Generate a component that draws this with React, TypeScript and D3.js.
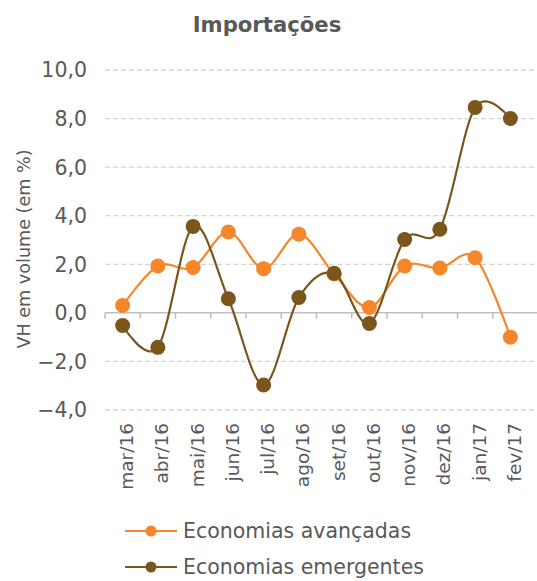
import React, { useEffect, useRef } from "react";
import * as d3 from "d3";

// importações: VH em volume, economias avançadas vs emergentes

const months = ["mar/16", "abr/16", "mai/16", "jun/16", "jul/16", "ago/16", "set/16", "out/16", "nov/16", "dez/16", "jan/17", "fev/17"];
const avancadas = [0.3, 1.93, 1.87, 3.33, 1.82, 3.24, 1.6, 0.22, 1.93, 1.85, 2.27, -1.0];
const emergentes = [-0.52, -1.42, 3.56, 0.58, -2.97, 0.63, 1.63, -0.44, 3.02, 3.44, 8.46, 8.0];
const yTicks = [-4, -2, 0, 2, 4, 6, 8, 10];
const seriesNames = ["Economias avançadas", "Economias emergentes"];
const colors = ["#F5862A", "#7A561C"];

const font = "'DejaVu Sans', Verdana, sans-serif";

export default function App() {
    const svgRef = useRef<SVGSVGElement | null>(null);

    useEffect(() => {
        const svg = d3.select(svgRef.current);
        svg.selectAll("*").remove();

        const left = 105;
        const plotRight = 528;
        const gridRight = 537;

        const x = d3.scaleBand().domain(months).range([left, plotRight]);
        const y = d3.scaleLinear().domain([-4, 10]).range([410, 70]);

        // title
        svg.append("text")
            .attr("x", 267)
            .attr("y", 32)
            .attr("text-anchor", "middle")
            .attr("font-family", font)
            .attr("font-weight", "bold")
            .attr("font-size", 21.2)
            .attr("fill", "#595959")
            .text("Importações");

        // gridlines
        svg.append("g")
            .selectAll("line")
            .data(yTicks.filter((d) => d !== 0))
            .join("line")
            .attr("x1", left)
            .attr("x2", gridRight)
            .attr("y1", (d) => y(d))
            .attr("y2", (d) => y(d))
            .attr("stroke", "#d4d4d4")
            .attr("stroke-width", 1.3)
            .attr("stroke-dasharray", "5,3");

        // y tick labels
        svg.append("g")
            .selectAll("text")
            .data(yTicks)
            .join("text")
            .attr("x", 87)
            .attr("y", (d) => y(d))
            .attr("dy", "0.36em")
            .attr("text-anchor", "end")
            .attr("font-family", font)
            .attr("font-size", 20.5)
            .attr("fill", "#595959")
            .text((d) => d3.format(".1f")(d).replace(".", ","));

        // y label
        svg.append("text")
            .attr("transform", `translate(29.5,249) rotate(-90)`)
            .attr("text-anchor", "middle")
            .attr("font-family", font)
            .attr("font-size", 17.6)
            .attr("fill", "#595959")
            .text("VH em volume (em %)");

        // zero axis with ticks
        const xAxis = svg.append("g").attr("transform", `translate(0,${y(0)})`);
        xAxis.append("line")
            .attr("x1", left)
            .attr("x2", gridRight)
            .attr("stroke", "#bfbfbf")
            .attr("stroke-width", 1.5);
        xAxis.selectAll("line.tick")
            .data(months)
            .join("line")
            .attr("class", "tick")
            .attr("x1", (d) => x(d)!)
            .attr("x2", (d) => x(d)!)
            .attr("y1", 0)
            .attr("y2", 6)
            .attr("stroke", "#bfbfbf")
            .attr("stroke-width", 1.5);

        // x labels
        svg.append("g")
            .selectAll("text")
            .data(months)
            .join("text")
            .attr("transform", (d) => `translate(${x(d)! + x.bandwidth() / 2 + 10.5},423) rotate(-90)`)
            .attr("text-anchor", "end")
            .attr("font-family", font)
            .attr("font-size", 18.5)
            .attr("fill", "#595959")
            .text((d) => d);

        const cx = (i: number) => x(months[i])! + x.bandwidth() / 2;
        const line = d3.line<number>()
            .x((d, i) => cx(i))
            .y((d) => y(d))
            .curve(d3.curveCardinal.tension(0));

        [avancadas, emergentes].forEach((vals, k) => {
            const g = svg.append("g");
            g.append("path")
                .datum(vals)
                .attr("fill", "none")
                .attr("stroke", colors[k])
                .attr("stroke-width", 2.2)
                .attr("d", line);
            g.selectAll("circle")
                .data(vals)
                .join("circle")
                .attr("cx", (d, i) => cx(i))
                .attr("cy", (d) => y(d))
                .attr("r", 7.5)
                .attr("fill", colors[k]);
        });

        // legend
        const legend = svg.append("g");
        seriesNames.forEach((name, k) => {
            const ly = 531 + k * 36;
            legend.append("line")
                .attr("x1", 125)
                .attr("x2", 177)
                .attr("y1", ly)
                .attr("y2", ly)
                .attr("stroke", colors[k])
                .attr("stroke-width", 2.2);
            legend.append("circle")
                .attr("cx", 151)
                .attr("cy", ly)
                .attr("r", 5.5)
                .attr("fill", colors[k]);
            legend.append("text")
                .attr("x", 183)
                .attr("y", ly)
                .attr("dy", "0.36em")
                .attr("font-family", font)
                .attr("font-size", 20.5)
                .attr("fill", "#595959")
                .text(name);
        });
    }, []);

    return (
        <svg
            ref={svgRef}
            width={537}
            height={581}
            style={{ position: "absolute", left: 0, top: 0, background: "#fff" }}
        />
    );
}
